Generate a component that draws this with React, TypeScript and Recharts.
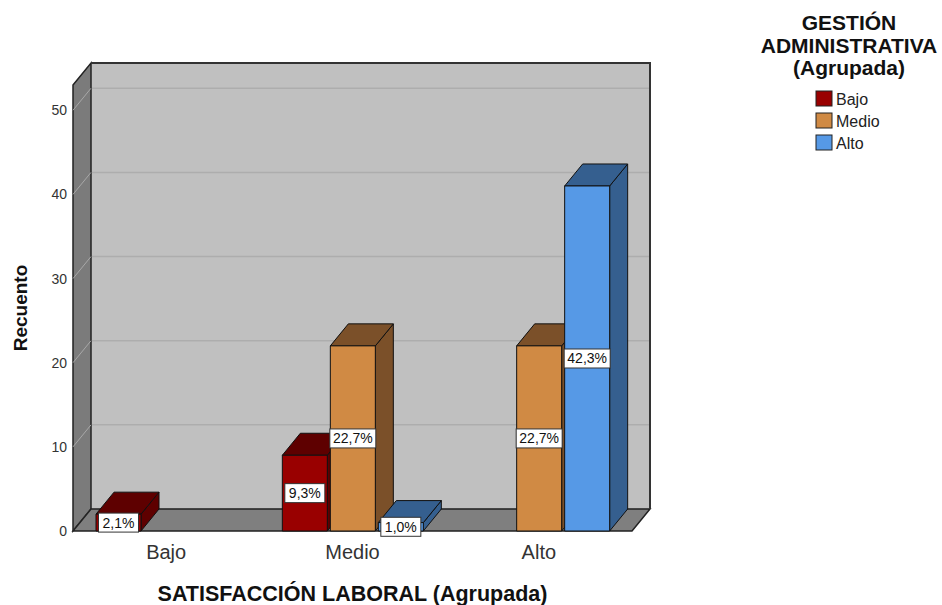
import {
  BarChart,
  Bar,
  XAxis,
  YAxis,
  ReferenceArea,
  LabelList,
} from "recharts";

const categories = ["Bajo", "Medio", "Alto"];
const bajoCounts = [2, 9, 0];
const medioCounts = [0, 22, 22];
const altoCounts = [0, 1, 41];
const yTicks = [0, 10, 20, 30, 40, 50];
const yMax = 53;

const series = [
  { key: "Bajo", counts: bajoCounts, front: "#990000", shade: "#5e0000" },
  { key: "Medio", counts: medioCounts, front: "#d08a44", shade: "#7b5029" },
  { key: "Alto", counts: altoCounts, front: "#5699e6", shade: "#355f8f" },
];

const total = [...bajoCounts, ...medioCounts, ...altoCounts].reduce((a, b) => a + b, 0);
const pct = (v: number) => ((v / total) * 100).toFixed(1).replace(".", ",") + "%";

const data = categories.map((cat, i) => {
  const row: Record<string, string | number> = { cat };
  series.forEach((s) => {
    row[s.key] = s.counts[i];
    row[s.key + "Pct"] = pct(s.counts[i]);
  });
  return row;
});

// depth offset of the 3D box
const DX = 18;
const DY = -22;
const FONT = '"Liberation Sans", Arial, sans-serif';

function Walls(props: any) {
  const { x, y, width, height } = props;
  const bottom = y + height;
  const right = x + width;
  const unit = height / yMax;
  return (
    <g>
      <rect x={x + DX} y={y + DY} width={width} height={height} fill="#c0c0c0" />
      {yTicks.map((t) => (
        <line
          key={"g" + t}
          x1={x + DX}
          x2={right + DX}
          y1={bottom - t * unit + DY}
          y2={bottom - t * unit + DY}
          stroke="#adadad"
          strokeWidth={1.5}
        />
      ))}
      <polygon
        points={`${x},${y} ${x + DX},${y + DY} ${x + DX},${bottom + DY} ${x},${bottom}`}
        fill="#7b7b7b"
        stroke="#222"
        strokeWidth={1.5}
      />
      {yTicks.map((t) => (
        <line
          key={"d" + t}
          x1={x}
          y1={bottom - t * unit}
          x2={x + DX}
          y2={bottom - t * unit + DY}
          stroke="#a8a8a8"
          strokeWidth={1}
        />
      ))}
      <polygon
        points={`${x},${bottom} ${x + DX},${bottom + DY} ${right + DX},${bottom + DY} ${right},${bottom}`}
        fill="#7f7f7f"
        stroke="#222"
        strokeWidth={1.5}
      />
      <polyline
        points={`${x + DX},${y + DY} ${right + DX},${y + DY} ${right + DX},${bottom + DY}`}
        fill="none"
        stroke="#333"
        strokeWidth={2}
      />
    </g>
  );
}

const makeBox = (front: string, shade: string) => (props: any) => {
  const { x, y, width, height } = props;
  if (!height || height <= 0) return <g />;
  const r = x + width;
  const b = y + height;
  return (
    <g stroke="#111" strokeWidth={1} strokeLinejoin="round">
      <polygon points={`${r},${y} ${r + DX},${y + DY} ${r + DX},${b + DY} ${r},${b}`} fill={shade} />
      <polygon points={`${x},${y} ${x + DX},${y + DY} ${r + DX},${y + DY} ${r},${y}`} fill={shade} />
      <rect x={x} y={y} width={width} height={height} fill={front} />
    </g>
  );
};

const PctLabel = (props: any) => {
  const { x, y, width, height, value } = props;
  if (!height || height <= 0) return null;
  const w = String(value).length * 6 + 16;
  const h = 19;
  const cx = x + width / 2;
  const cy = y + height / 2;
  return (
    <g>
      <rect x={cx - w / 2} y={cy - h / 2} width={w} height={h} fill="#fff" stroke="#333" strokeWidth={1} />
      <text x={cx} y={cy + 5} textAnchor="middle" fontFamily={FONT} fontSize={14} fill="#111">
        {value}
      </text>
    </g>
  );
};

export default function App() {
  return (
    <div style={{ position: "absolute", left: 0, top: 0, width: 942, height: 605, background: "#fff" }}>
      <BarChart
        width={942}
        height={605}
        data={data}
        margin={{ top: 85, right: 310, left: 23, bottom: 44 }}
        barSize={45}
        barGap={3}
      >
        <XAxis
          dataKey="cat"
          axisLine={false}
          tickLine={false}
          tickSize={8}
          tickMargin={6}
          height={30}
          tick={{ fontFamily: FONT, fontSize: 20, fill: "#333" }}
          label={(p: any) => {
            const vb = p.viewBox;
            return (
              <text
                x={vb.x + vb.width / 2}
                y={vb.y + 70}
                textAnchor="middle"
                fontFamily={FONT}
                fontSize={21.5}
                fontWeight="bold"
                fill="#111"
              >
                SATISFACCIÓN LABORAL (Agrupada)
              </text>
            );
          }}
        />
        <YAxis
          width={50}
          domain={[0, yMax]}
          ticks={yTicks}
          axisLine={false}
          tickLine={false}
          tickSize={4}
          tickMargin={2}
          tick={{ fontFamily: FONT, fontSize: 14, fill: "#333" }}
          label={(p: any) => {
            const vb = p.viewBox;
            const cy = vb.y + vb.height / 2;
            return (
              <text
                x={20}
                y={cy}
                transform={`rotate(-90, 20, ${cy})`}
                textAnchor="middle"
                dominantBaseline="central"
                fontFamily={FONT}
                fontSize={19}
                fontWeight="bold"
                fill="#111"
              >
                Recuento
              </text>
            );
          }}
        />
        <ReferenceArea y1={0} y2={yMax} shape={<Walls />} zIndex={-200} ifOverflow="visible" />
        {series.map((s) => (
          <Bar key={s.key} dataKey={s.key} isAnimationActive={false} shape={makeBox(s.front, s.shade)}>
            <LabelList dataKey={s.key + "Pct"} content={<PctLabel />} />
          </Bar>
        ))}
      </BarChart>
      <svg
        width={942}
        height={605}
        style={{ position: "absolute", left: 0, top: 0, pointerEvents: "none" }}
      >
        <g fontFamily={FONT} fontWeight="bold" fontSize={21} fill="#111" textAnchor="middle">
          <text x={849} y={30}>GESTIÓN</text>
          <text x={849} y={53}>ADMINISTRATIVA</text>
          <text x={849} y={75}>(Agrupada)</text>
        </g>
        {series.map((s, i) => (
          <g key={s.key}>
            <rect x={816} y={91 + i * 22} width={16} height={15} fill={s.front} stroke="#222" strokeWidth={1} />
            <text x={836} y={105 + i * 22} fontFamily={FONT} fontSize={16} fill="#222">
              {s.key}
            </text>
          </g>
        ))}
      </svg>
    </div>
  );
}
